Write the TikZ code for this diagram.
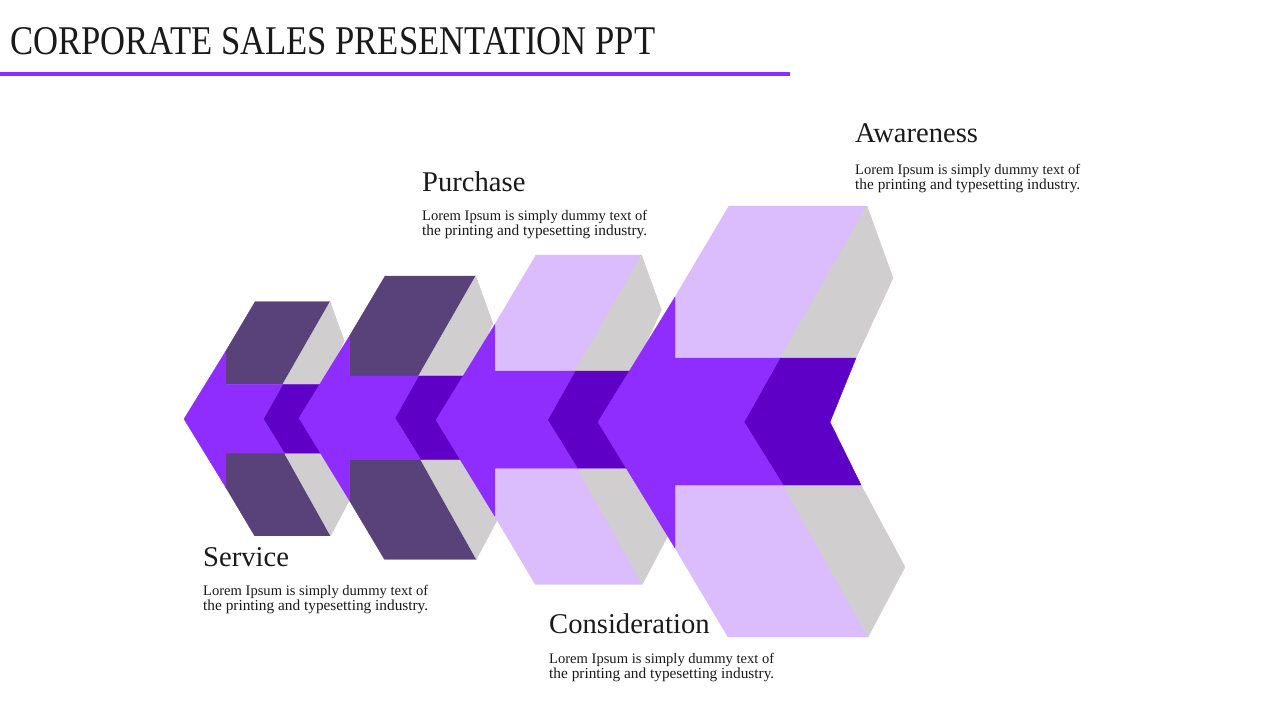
\documentclass[tikz,border=0pt]{standalone}
\usepackage{fontspec}
\setmainfont{Liberation Serif}
\usepackage{graphicx}
\definecolor{brightp}{HTML}{8F2DFF}
\definecolor{darkp}{HTML}{5E00C6}
\definecolor{lightp}{HTML}{DBBDFD}
\definecolor{greyc}{HTML}{D0CECF}
\definecolor{slatep}{HTML}{594279}
\definecolor{txt}{HTML}{1A1A1A}
\tikzset{
  facet/.style={fill=#1, draw=#1, line width=0.4pt, line join=round},
  headtxt/.style={anchor=base west, inner sep=0pt, text=txt, font=\fontsize{28.6}{32}\selectfont},
  bodytxt/.style={anchor=base west, inner sep=0pt, text=txt, font=\fontsize{14.5}{15}\selectfont},
}
\newcommand{\bline}[1]{\resizebox{225pt}{!}{#1}}
\newcommand{\chevunit}[4]{%
  \begin{scope}[shift={(#1,#2)}, scale=#3]
    \path[facet=#4] (131,-216) -- (269,-216) -- (182,-64) -- (77,-64) -- (77,-125) -- cycle;
    \path[facet=greyc] (269,-216) -- (295,-144) -- (258,-64) -- (182,-64) -- cycle;
    \path[facet=#4] (77,63) -- (185,63) -- (270,215) -- (130,215) -- (77,126) -- cycle;
    \path[facet=greyc] (185,63) -- (263,63) -- (307,145) -- (270,215) -- cycle;
    \path[facet=darkp] (182,-64) -- (258,-64) -- (232,0) -- (263,63) -- (185,63) -- (146,0) -- cycle;
    \path[facet=brightp] (0,0) -- (77,-125) -- (77,-64) -- (182,-64) -- (146,0) -- (185,63) -- (77,63) -- (77,126) -- cycle;
  \end{scope}}
\begin{document}
\begin{tikzpicture}[x=1pt, y=-1pt]
  \fill[white] (0,0) rectangle (1280,720);
  \useasboundingbox (0,0) rectangle (1280,720);
  % title
  \node[anchor=base west, inner sep=0pt, text=txt] (title) at (10,54)
    {\resizebox{645pt}{27pt}{CORPORATE SALES PRESENTATION PPT}};
  \fill[brightp] (0,72) rectangle (790,76);
  % units
  \chevunit{184}{419}{0.543}{slatep}
  \chevunit{299}{418}{0.657}{slatep}
  \chevunit{436}{420}{0.764}{lightp}
  \chevunit{598}{422}{1}{lightp}
  % labels
  \node[headtxt] (hA) at (855,142) {Awareness};
  \node[bodytxt] (bA1) at (855,174) {\bline{Lorem Ipsum is simply dummy text of}};
  \node[bodytxt] (bA2) at (855,189.5) {\bline{the printing and typesetting industry.}};
  \node[headtxt] (hP) at (422,191) {Purchase};
  \node[bodytxt] (bP1) at (422,220) {\bline{Lorem Ipsum is simply dummy text of}};
  \node[bodytxt] (bP2) at (422,235.5) {\bline{the printing and typesetting industry.}};
  \node[headtxt] (hS) at (203,566) {Service};
  \node[bodytxt] (bS1) at (203,595) {\bline{Lorem Ipsum is simply dummy text of}};
  \node[bodytxt] (bS2) at (203,610.5) {\bline{the printing and typesetting industry.}};
  \node[headtxt] (hC) at (549,633) {Consideration};
  \node[bodytxt] (bC1) at (549,663) {\bline{Lorem Ipsum is simply dummy text of}};
  \node[bodytxt] (bC2) at (549,678.5) {\bline{the printing and typesetting industry.}};
\end{tikzpicture}
\end{document}
